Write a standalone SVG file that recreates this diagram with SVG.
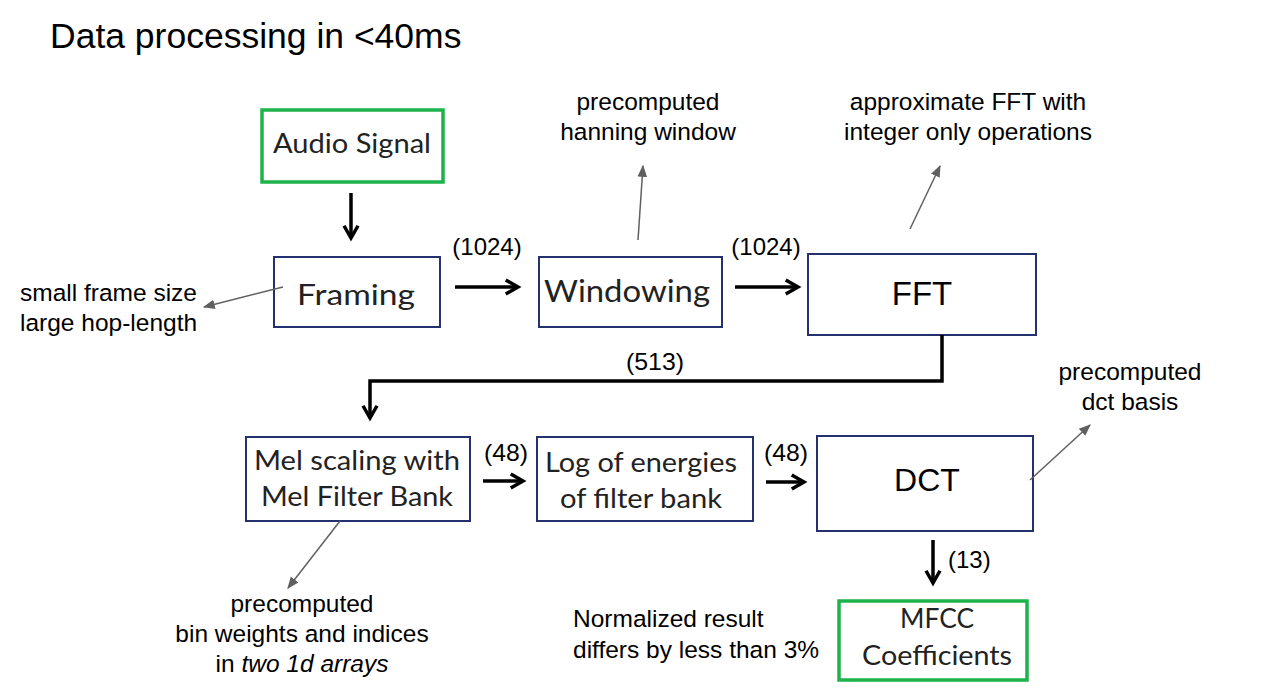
<svg xmlns="http://www.w3.org/2000/svg" width="1281" height="698" viewBox="0 0 1281 698">
<style>
.t{font-family:"Liberation Sans",Arial,sans-serif;fill:#000}
.ann{font-size:24.5px}
.lbl{font-size:24px}
.c{font-family:Lato,"Open Sans",sans-serif;fill:#222}
.box{fill:#fff;stroke:#25306e;stroke-width:2}
.gbox{fill:#fff;stroke:#1db34a;stroke-width:3.5}
.thick{fill:none;stroke:#000;stroke-width:3.5}
.thin{fill:none;stroke:#606060;stroke-width:1.5}
</style>
<defs>
<marker id="ah" viewBox="0 0 10 10" refX="8" refY="5" markerWidth="5" markerHeight="5" orient="auto" markerUnits="strokeWidth"><path d="M1,1 L8,5 L1,9" fill="none" stroke="#000" stroke-width="2"/></marker>
<marker id="gh" viewBox="0 0 10 10" refX="9" refY="5" markerWidth="8" markerHeight="8" orient="auto" markerUnits="strokeWidth"><path d="M0,1 L10,5 L0,9 Z" fill="#606060"/></marker>
</defs>
<text class="t" x="50" y="48" font-size="35.5">Data processing in &lt;40ms</text>

<g id="audio"><rect class="gbox" x="262" y="110" width="181" height="72"/><text class="c" x="352" y="153" font-size="26" text-anchor="middle" textLength="158" lengthAdjust="spacingAndGlyphs">Audio Signal</text></g>
<g id="framing"><rect class="box" x="274" y="257" width="166" height="70"/><text class="c" x="356" y="305" font-size="28" text-anchor="middle" textLength="118" lengthAdjust="spacingAndGlyphs">Framing</text></g>
<g id="windowing"><rect class="box" x="539" y="257" width="183" height="70"/><text class="c" x="627" y="302" font-size="30" text-anchor="middle" textLength="166" lengthAdjust="spacingAndGlyphs">Windowing</text></g>
<g id="fft"><rect class="box" x="808" y="254" width="228" height="81"/><text class="t" x="922" y="305" font-size="33" text-anchor="middle">FFT</text></g>
<g id="mel"><rect class="box" x="246" y="437" width="224" height="84"/><text class="c" x="357" y="470" font-size="27" text-anchor="middle" textLength="206" lengthAdjust="spacingAndGlyphs">Mel scaling with</text><text class="c" x="357" y="506" font-size="27" text-anchor="middle" textLength="192" lengthAdjust="spacingAndGlyphs">Mel Filter Bank</text></g>
<g id="log"><rect class="box" x="537" y="437" width="216" height="84"/><text class="c" x="641" y="472" font-size="27" text-anchor="middle" textLength="192" lengthAdjust="spacingAndGlyphs">Log of energies</text><text class="c" x="641" y="508" font-size="27" text-anchor="middle" textLength="162" lengthAdjust="spacingAndGlyphs">of filter bank</text></g>
<g id="dct"><rect class="box" x="817" y="436" width="216" height="95"/><text class="t" x="927" y="491" font-size="32" text-anchor="middle">DCT</text></g>
<g id="mfcc"><rect class="gbox" x="839" y="601" width="188" height="79"/><text class="c" x="937" y="628" font-size="26" text-anchor="middle" textLength="74" lengthAdjust="spacingAndGlyphs">MFCC</text><text class="c" x="937" y="665" font-size="26" text-anchor="middle" textLength="150" lengthAdjust="spacingAndGlyphs">Coefficients</text></g>

<g id="connectors">
<line class="thick" x1="351" y1="193" x2="351" y2="238" marker-end="url(#ah)"/>
<line class="thick" x1="455" y1="287" x2="518" y2="287" marker-end="url(#ah)"/>
<line class="thick" x1="735" y1="287" x2="798" y2="287" marker-end="url(#ah)"/>
<path class="thick" d="M942,335 V381 H370 V418" stroke-width="4" marker-end="url(#ah)"/>
<line class="thick" x1="483" y1="481" x2="523" y2="481" marker-end="url(#ah)"/>
<line class="thick" x1="766" y1="482" x2="804" y2="482" marker-end="url(#ah)"/>
<line class="thick" x1="933" y1="540" x2="933" y2="583" marker-end="url(#ah)"/>
<line class="thin" x1="638" y1="240" x2="643" y2="166" marker-end="url(#gh)"/>
<line class="thin" x1="910" y1="229" x2="940" y2="166" marker-end="url(#gh)"/>
<line class="thin" x1="283" y1="287" x2="204" y2="307" marker-end="url(#gh)"/>
<line class="thin" x1="340" y1="521" x2="288" y2="588" marker-end="url(#gh)"/>
<line class="thin" x1="1030" y1="480" x2="1090" y2="425" marker-end="url(#gh)"/>
</g>

<text class="t lbl" x="487" y="255" text-anchor="middle">(1024)</text>
<text class="t lbl" x="766" y="255" text-anchor="middle">(1024)</text>
<text class="t lbl" x="655" y="370" text-anchor="middle" textLength="58" lengthAdjust="spacingAndGlyphs">(513)</text>
<text class="t lbl" x="506" y="461" text-anchor="middle" textLength="44" lengthAdjust="spacingAndGlyphs" font-size="26">(48)</text>
<text class="t lbl" x="786" y="461" text-anchor="middle" textLength="44" lengthAdjust="spacingAndGlyphs" font-size="26">(48)</text>
<text class="t lbl" x="948" y="568">(13)</text>

<text class="t ann" x="648" y="110" text-anchor="middle">precomputed</text>
<text class="t ann" x="648" y="140" text-anchor="middle">hanning window</text>
<text class="t ann" x="968" y="110" text-anchor="middle">approximate FFT with</text>
<text class="t ann" x="968" y="140" text-anchor="middle">integer only operations</text>
<text class="t ann" x="20" y="301">small frame size</text>
<text class="t ann" x="20" y="331">large hop-length</text>
<text class="t ann" x="1130" y="380" text-anchor="middle">precomputed</text>
<text class="t ann" x="1130" y="410" text-anchor="middle">dct basis</text>
<text class="t ann" x="302" y="612" text-anchor="middle">precomputed</text>
<text class="t ann" x="302" y="642" text-anchor="middle">bin weights and indices</text>
<text class="t ann" x="302" y="672" text-anchor="middle">in <tspan font-style="italic">two 1d arrays</tspan></text>
<text class="t ann" x="573" y="627">Normalized result</text>
<text class="t ann" x="573" y="658">differs by less than 3%</text>
</svg>
